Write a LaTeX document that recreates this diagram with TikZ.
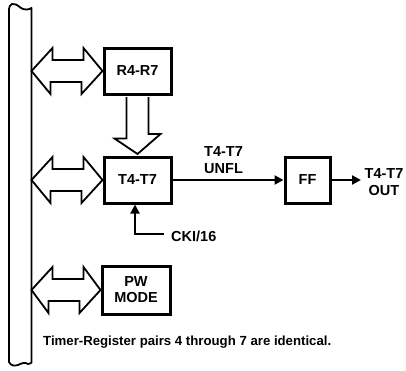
\documentclass[tikz,border=0pt]{standalone}
\usepackage{fontspec}
\setmainfont{Liberation Sans}
\usetikzlibrary{calc,arrows.meta}
\begin{document}
\begin{tikzpicture}[x=1pt,y=-1pt,
  box/.style={draw,line width=3pt,minimum width=67pt,minimum height=46pt,inner sep=0pt,
    font=\fontsize{14.5}{16}\selectfont\bfseries,align=center},
  hollow/.style={draw,line width=1.8pt,line join=miter},
  conn/.style={line width=2.2pt},
  lbl/.style={font=\fontsize{14.5}{17}\selectfont\bfseries,align=center,inner sep=0pt},
  tip/.style={-{Triangle[length=9pt,width=9pt]}}]
\useasboundingbox (0,0) rectangle (406,370);
% bus
\draw[line width=1.8pt,line join=round] (31.5,363) -- (31.5,8) .. controls (29,10) and (24,10) .. (21,8)
  .. controls (17,5) and (15,3) .. (12,4) .. controls (10,5) and (9,7) .. (9,9) -- (9,362)
  .. controls (11,366) and (14,366) .. (18,365) .. controls (22,363) and (25,362) .. (28,364) -- (31.5,363);
\coordinate (b1) at (31.5,71);
\coordinate (b2) at (31.5,180);
\coordinate (b3) at (31.5,290);
% boxes
\node[box] (r47) at (137.5,71) {R4-R7};
\node[box] (t47) at (137.5,180) {T4-T7};
\node[box,minimum width=68pt,minimum height=48pt] (pw) at (136,290) {PW\\MODE};
\node[box,minimum width=45pt] (ff) at (307.5,180) {FF};
% double hollow arrows
\foreach \b/\n in {b1/r47,b2/t47,b3/pw}{
  \draw[hollow] (\b) -- ++(21,-23) -- ++(0,12) -- ++(31,0) -- ++(0,-12) -- (\n.west)
    -- ++(-21,23) -- ++(0,-12) -- ++(-31,0) -- ++(0,12) -- cycle;
}
% down hollow arrow
\draw[hollow] ($(r47.south)+(-11,1.5)$) -- ++(0,41.5) -- ++(-12,0) -- ($(t47.north)+(0,-1.5)$)
  -- ++(23,-20) -- ++(-12,0) -- ($(r47.south)+(11,1.5)$);
% connectors
\draw[conn,tip] (t47.east) -- (ff.west) node[lbl,pos=0.46,above=5pt] {T4-T7\\UNFL};
\coordinate (outend) at (361,180);
\draw[conn,tip] (ff.east) -- (outend);
\node[lbl] (outl) at (384,182) {T4-T7\\OUT};
\coordinate (cki) at (164,234);
\draw[conn,tip] (cki) -| ($(t47.south)+(-2.5,0)$);
\node[lbl,anchor=west] (ckil) at (171,236) {CKI/16};
% caption
\node[lbl,anchor=west,font=\fontsize{13.2}{15}\selectfont\bfseries] (cap) at (43,342) {Timer-Register pairs 4 through 7 are identical.};
\end{tikzpicture}
\end{document}
